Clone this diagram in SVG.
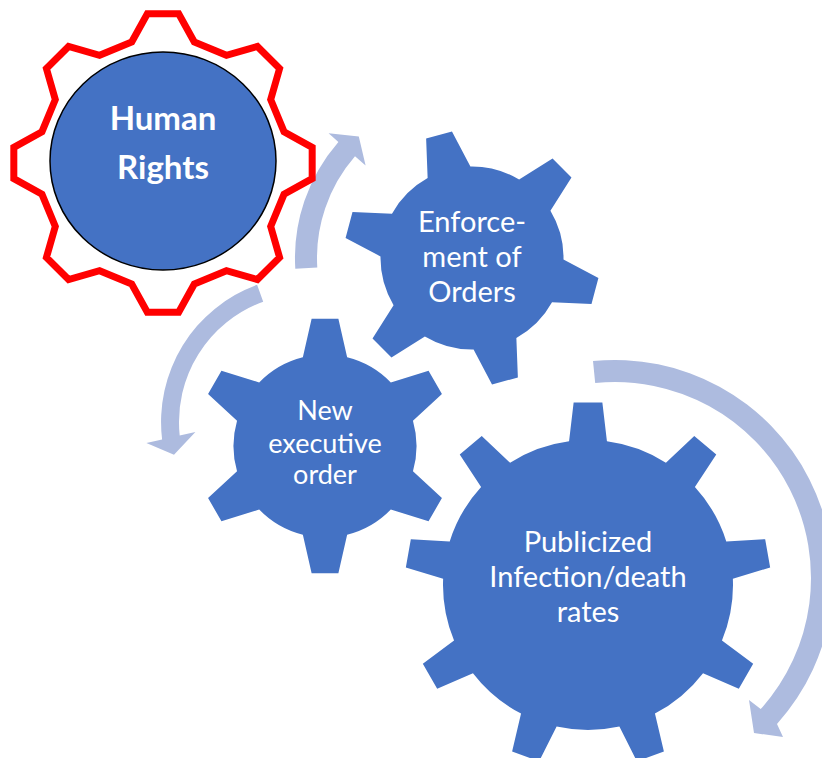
<svg xmlns="http://www.w3.org/2000/svg" xmlns:xlink="http://www.w3.org/1999/xlink" width="822" height="758" viewBox="0 0 822 758">
<style>
.gear{fill:#4472C4;}
.arrow{fill:#ADBBDF;}
.lbl{font-family:Lato,"Liberation Sans",sans-serif;fill:#FFFFFF;text-anchor:middle;font-size:29px;}
.lbl-b{font-family:Lato,"Liberation Sans",sans-serif;fill:#FFFFFF;text-anchor:middle;font-size:33px;font-weight:bold;}
</style>
<defs>
<path id="gear6" d="M-22.14,-88.78 L-13.38,-127.3 L13.38,-127.3 L22.14,-88.78 A91.5,91.5 0 0 1 65.82,-63.56 L103.55,-75.24 L116.93,-52.06 L87.96,-25.22 A91.5,91.5 0 0 1 87.96,25.22 L116.93,52.06 L103.55,75.24 L65.82,63.56 A91.5,91.5 0 0 1 22.14,88.78 L13.38,127.3 L-13.38,127.3 L-22.14,88.78 A91.5,91.5 0 0 1 -65.82,63.56 L-103.55,75.24 L-116.93,52.06 L-87.96,25.22 A91.5,91.5 0 0 1 -87.96,-25.22 L-116.93,-52.06 L-103.55,-75.24 L-65.82,-63.56 A91.5,91.5 0 0 1 -22.14,-88.78 Z"/>
<path id="gear9" d="M-18.93,-143.76 L-14.36,-182.44 L14.36,-182.44 L18.93,-143.76 A145,145 0 0 1 77.91,-122.29 L106.27,-148.98 L128.27,-130.52 L106.91,-97.96 A145,145 0 0 1 138.29,-43.6 L177.17,-45.82 L182.16,-17.54 L144.86,-6.32 A145,145 0 0 1 133.96,55.49 L165.17,78.78 L150.82,103.65 L115.04,88.27 A145,145 0 0 1 66.95,128.62 L75.89,166.52 L48.9,176.34 L31.38,141.56 A145,145 0 0 1 -31.38,141.56 L-48.9,176.34 L-75.89,166.52 L-66.95,128.62 A145,145 0 0 1 -115.04,88.27 L-150.82,103.65 L-165.17,78.78 L-133.96,55.49 A145,145 0 0 1 -144.86,-6.32 L-182.16,-17.54 L-177.17,-45.82 L-138.29,-43.6 A145,145 0 0 1 -106.91,-97.96 L-128.27,-130.52 L-106.27,-148.98 L-77.91,-122.29 A145,145 0 0 1 -18.93,-143.76 Z"/>
</defs>
<rect width="822" height="758" fill="#FFFFFF"/>
<g id="connectors">
<path class="arrow" d="M317.3,267.5 A155,155 0 0 1 355,156.3 L365.6,165.5 L358.8,136.6 L328.6,133.3 L338.4,141.9 A177,177 0 0 0 295.3,268.8 Z"/>
<path class="arrow" d="M263.2,301.7 A128,128 0 0 0 179.7,435.5 L195.4,432 L174,454.7 L146.4,442.9 L162.1,439.4 A146,146 0 0 1 257.1,284.8 Z"/>
<path class="arrow" d="M595.2,383 A196,196 0 0 1 760.7,709.1 L749,700 L754,733 L783,737 L777,723.9 A218,218 0 0 0 593,361.1 Z"/>
</g>
<g id="human-rights">
<polygon transform="translate(163,163)" fill="#FFFFFF" stroke="#FF0000" stroke-width="7" stroke-linejoin="miter" points="-31.3,-121.02 -15.68,-149.18 15.68,-149.18 31.3,-121.02 63.44,-107.7 94.4,-116.57 116.57,-94.4 107.7,-63.44 121.02,-31.3 149.18,-15.68 149.18,15.68 121.02,31.3 107.7,63.44 116.57,94.4 94.4,116.57 63.44,107.7 31.3,121.02 15.68,149.18 -15.68,149.18 -31.3,121.02 -63.44,107.7 -94.4,116.57 -116.57,94.4 -107.7,63.44 -121.02,31.3 -149.18,15.68 -149.18,-15.68 -121.02,-31.3 -107.7,-63.44 -116.57,-94.4 -94.4,-116.57 -63.44,-107.7"/>
<ellipse cx="163" cy="161" rx="113" ry="109" fill="#4472C4" stroke="#000000" stroke-width="1.5"/>
<text class="lbl-b" x="163" y="130">Human</text>
<text class="lbl-b" x="163" y="179">Rights</text>
</g>
<g id="enforcement">
<use xlink:href="#gear6" class="gear" transform="translate(472,258) rotate(-15)"/>
<text class="lbl" x="472" y="232">Enforce-</text>
<text class="lbl" x="472" y="267">ment of</text>
<text class="lbl" x="472" y="302">Orders</text>
</g>
<g id="new-executive-order">
<use xlink:href="#gear6" class="gear" transform="translate(325,446)"/>
<text class="lbl" x="325" y="420" style="font-size:27px">New</text>
<text class="lbl" x="325" y="453" style="font-size:27px">executive</text>
<text class="lbl" x="325" y="484" style="font-size:27px">order</text>
</g>
<g id="publicized">
<use xlink:href="#gear9" class="gear" transform="translate(588,585)"/>
<text class="lbl" x="588" y="552">Publicized</text>
<text class="lbl" x="588" y="587">Infection/death</text>
<text class="lbl" x="588" y="622">rates</text>
</g>
</svg>
